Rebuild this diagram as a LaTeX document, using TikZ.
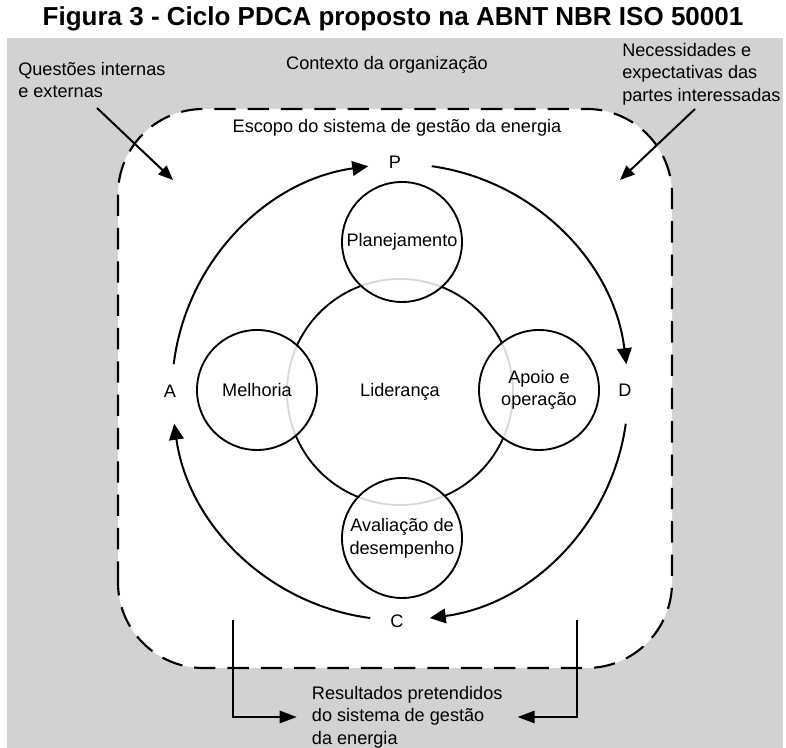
\documentclass[tikz,border=0pt]{standalone}
\usepackage{fontspec}
\setmainfont{Liberation Sans}
\usepackage{xcolor}
\usetikzlibrary{arrows.meta}
\definecolor{fundo}{RGB}{210,210,210}

\begin{document}
\begin{tikzpicture}[x=0.75pt, y=0.75pt,
    texto/.style={font=\fontsize{13.6}{17}\selectfont, inner sep=0pt},
    etapa/.style={circle, draw, line width=1.4pt, fill=white, fill opacity=0.85,
        text opacity=1, minimum size=90pt, inner sep=0pt, align=center,
        font=\fontsize{13.6}{17}\selectfont},
    ciclo/.style={line width=1.5pt, -{Triangle[length=12pt, width=11pt]}},
    seta/.style={line width=1.5pt, -{Triangle[length=11pt, width=9pt]}},
    chave/.style={line width=2.2pt, -{Triangle[length=13pt, width=9pt]}}]
    \useasboundingbox (0,0) rectangle (786,748);
    \fill[fundo] (7,0) rectangle (783,710);
    \node[font=\fontsize{19.5}{23}\selectfont\bfseries] (titulo) at (393,729)
        {Figura 3 - Ciclo PDCA proposto na ABNT NBR ISO 50001};

    % escopo do sistema
    \draw[fill=white, line width=1.6pt, dash pattern=on 16pt off 9pt, rounded corners=64pt]
        (118,80) rectangle (672,639);

    \node[texto, anchor=west, align=left] (questoes) at (18,668) {Questões internas\\e externas};
    \node[texto] (contexto) at (387,683) {Contexto da organização};
    \node[texto, anchor=west, align=left] (partes) at (622,674)
        {Necessidades e\\expectativas das\\partes interessadas};
    \node[texto] (escopo) at (397,620) {Escopo do sistema de gestão da energia};

    % circulos
    \coordinate (centro) at (400,356);
    \draw[line width=1.4pt] (centro) circle[radius=113];
    \node[texto] (lider) at (centro) {Liderança};
    \node[etapa] (plan) at (402,506) {Planejamento};
    \node[etapa] (melhoria) at (257,358) {Melhoria};
    \node[etapa] (apoio) at (539,358) {Apoio e\\operação};
    \node[etapa] (aval) at (402,210) {Avaliação de\\desempenho};

    \node[texto] (P) at (395,586) {P};
    \node[texto] (D) at (625,358) {D};
    \node[texto] (C) at (397,127) {C};
    \node[texto] (A) at (170,357) {A};

    % ciclo PDCA
    \draw[ciclo] (centro) ++(173:228) arc[start angle=173, end angle=98, radius=228];
    \draw[ciclo] (centro) ++(82:228) arc[start angle=82, end angle=7, radius=228];
    \draw[ciclo] (centro) ++(-8:228) arc[start angle=-8, end angle=-82.5, radius=228];
    \draw[ciclo] (centro) ++(-97.5:228) arc[start angle=-97.5, end angle=-172, radius=228];

    \coordinate (q1) at (97,640);
    \coordinate (q2) at (173,568);
    \draw[seta] (q1) -- (q2);
    \coordinate (n1) at (695,639);
    \coordinate (n2) at (620,568);
    \draw[seta] (n1) -- (n2);

    % resultados
    \node[texto, anchor=west, align=left, inner xsep=11pt] (result) at (297,31)
        {Resultados pretendidos\\do sistema de gestão\\da energia};
    \coordinate (e1) at (233,128);
    \coordinate (e2) at (577,128);
    \draw[chave] (e1) |- (result.west);
    \draw[chave] (e2) |- (result.east);
\end{tikzpicture}
\end{document}
